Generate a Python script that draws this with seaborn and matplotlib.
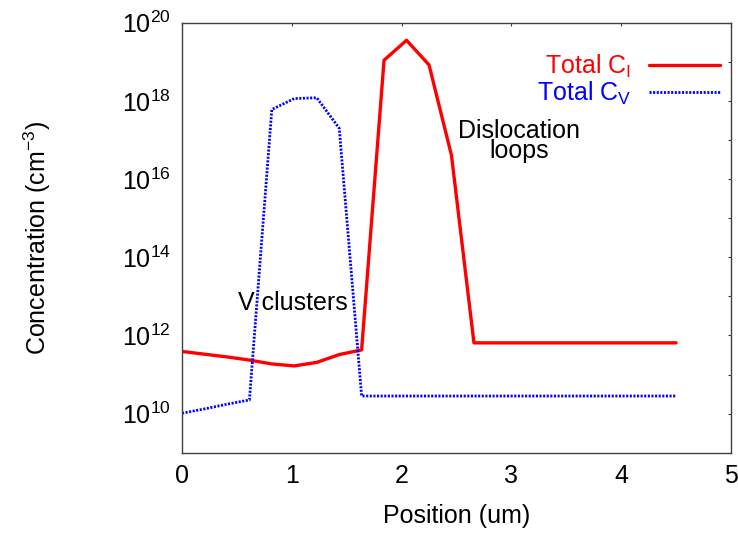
import numpy as np
import pandas as pd
import matplotlib
matplotlib.use("Agg")
import matplotlib.pyplot as plt
import seaborn as sns
from matplotlib.ticker import FixedLocator, FuncFormatter, NullLocator
from matplotlib.lines import Line2D

# ---- data ----
position_um = [0.0, 0.2045, 0.409, 0.614, 0.818, 1.023, 1.227, 1.432, 1.636,
               1.84, 2.045, 2.25, 2.454, 2.659, 2.864, 3.068, 3.273, 3.477,
               3.682, 3.886, 4.091, 4.295, 4.5]
# log10 of concentrations (cm^-3)
log_total_ci = [11.59, 11.52, 11.45, 11.37, 11.27, 11.22, 11.31, 11.51, 11.63,
                19.04, 19.55, 18.92, 16.61, 11.81, 11.81, 11.81, 11.81, 11.81,
                11.81, 11.81, 11.81, 11.81, 11.81]
log_total_cv = [10.01, 10.12, 10.24, 10.35, 17.78, 18.06, 18.08, 17.30, 10.45,
                10.45, 10.45, 10.45, 10.45, 10.45, 10.45, 10.45, 10.45, 10.45,
                10.45, 10.45, 10.45, 10.45, 10.45]
series_labels = [r"Total $\mathregular{C_I}$", r"Total $\mathregular{C_V}$"]
x_ticks = [0, 1, 2, 3, 4, 5]
y_decades = list(range(9, 21))

df = pd.DataFrame({
    "pos": position_um,
    "ci": [10.0 ** v for v in log_total_ci],
    "cv": [10.0 ** v for v in log_total_cv],
})

sns.set_theme(style="white")
plt.rcParams["font.family"] = ["Liberation Sans", "DejaVu Sans"]
plt.rcParams["text.color"] = "black"
plt.rcParams["mathtext.fontset"] = "custom"
plt.rcParams["mathtext.rm"] = "Liberation Sans"
plt.rcParams["mathtext.it"] = "Liberation Sans:italic"
plt.rcParams["mathtext.bf"] = "Liberation Sans:bold"

fig = plt.figure(figsize=(7.38, 5.35), dpi=100)
ax = fig.add_axes([182 / 738, 1 - 452.7 / 535, (731 - 182) / 738, (452.7 - 22.7) / 535])

red_ls = "-"
blue_ls = (0, (0.75, 0.55))
sns.lineplot(data=df, x="pos", y="ci", ax=ax, color="#ff0000", linewidth=2.4,
             linestyle=red_ls, estimator=None, sort=False)
sns.lineplot(data=df, x="pos", y="cv", ax=ax, color="#0000ff", linewidth=2.0,
             linestyle=blue_ls, estimator=None, sort=False)

ax.set_yscale("log")
ax.set_xlim(0, 5)
ax.set_ylim(1e9, 1e20)
ax.xaxis.set_major_locator(FixedLocator(x_ticks))
ax.yaxis.set_major_locator(FixedLocator([10.0 ** d for d in y_decades]))
ax.yaxis.set_minor_locator(NullLocator())
ax.xaxis.set_minor_locator(NullLocator())

def yfmt(v, pos):
    d = int(round(np.log10(v)))
    if d % 2 == 0 and d >= 10:
        return r"$\mathregular{10^{%d}}$" % d
    return ""

ax.yaxis.set_major_formatter(FuncFormatter(yfmt))
ax.xaxis.set_major_formatter(FuncFormatter(lambda v, p: "%d" % v))

ax.tick_params(axis="both", which="major", direction="in", length=2.5, width=0.8,
               colors="#404040", labelcolor="black", labelsize=18,
               top=True, right=True, pad=8)
for s in ax.spines.values():
    s.set_color("#404040")
    s.set_linewidth(1.0)
    s.set_visible(True)

ax.set_xlabel("Position (um)", fontsize=18, color="black")
ax.set_ylabel(r"Concentration (cm$\mathregular{^{-3}}$)", fontsize=18, color="black")
ax.xaxis.set_label_coords(0.5, -(504 - 452.7) / 430)
ax.yaxis.set_label_coords(-(182 - 53) / 549, 0.5)

ax.text(1.011, 10 ** 12.65, "V clusters", fontsize=18, ha="center", va="baseline",
        color="black")
ax.text(3.069, 10 ** 16.53, "Dislocation\nloops", fontsize=18, ha="center",
        va="baseline", multialignment="center", linespacing=0.83, color="black")

handles = [Line2D([], [], color="#ff0000", linewidth=2.4, linestyle=red_ls),
           Line2D([], [], color="#0000ff", linewidth=2.0, linestyle=blue_ls)]
leg = ax.legend(handles, series_labels, loc="upper right", frameon=False,
                markerfirst=False, fontsize=18, handlelength=2.84,
                handletextpad=0.7, labelspacing=0.0, borderpad=0,
                borderaxespad=0,
                bbox_to_anchor=((720 - 182) / 549, 1 - (53 - 22.7) / 430))
leg.get_texts()[0].set_color("#ff0000")
leg.get_texts()[1].set_color("#0000ff")
for t in leg.get_texts():
    t.set_ha("right")

fig.savefig("out.png", dpi=100)
